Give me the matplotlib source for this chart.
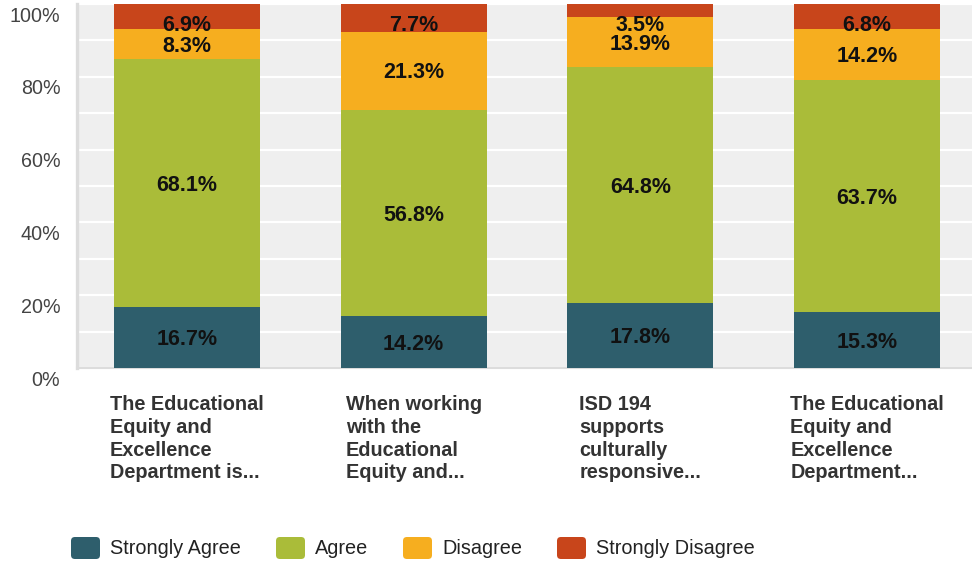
import matplotlib
matplotlib.use("Agg")
import matplotlib.pyplot as plt
import matplotlib.transforms as mtransforms
from matplotlib.patches import FancyBboxPatch
from matplotlib.ticker import MultipleLocator, FuncFormatter

plt.rcParams["font.family"] = ["Liberation Sans", "DejaVu Sans"]

# Survey items (truncated question text) and response shares in percent
categories = [
    "The Educational\nEquity and\nExcellence\nDepartment is...",
    "When working\nwith the\nEducational\nEquity and...",
    "ISD 194\nsupports\nculturally\nresponsive...",
    "The Educational\nEquity and\nExcellence\nDepartment...",
]
series_names = ["Strongly Agree", "Agree", "Disagree", "Strongly Disagree"]
strongly_agree = [16.7, 14.2, 17.8, 15.3]
agree = [68.1, 56.8, 64.8, 63.7]
disagree = [8.3, 21.3, 13.9, 14.2]
strongly_disagree = [6.9, 7.7, 3.5, 6.8]
y_ticks = [0, 20, 40, 60, 80, 100]

colors = ["#2e5e6c", "#aabc39", "#f6ae1f", "#c8451b"]
series = [strongly_agree, agree, disagree, strongly_disagree]

W, H = 972, 564
fig = plt.figure(figsize=(W / 100, H / 100), dpi=100)
ax = fig.add_axes([77 / W, (H - 368) / H, (W - 77) / W, (368 - 4) / H])
ax.set_facecolor("#efefef")

x = list(range(len(categories)))
bar_w = 0.644
bottoms = [0.0] * len(categories)
for vals, col in zip(series, colors):
    ax.bar(x, vals, width=bar_w, bottom=bottoms, color=col, zorder=3, linewidth=0)
    for xi, v, b in zip(x, vals, bottoms):
        # keep labels of thin top segments inside the plot area
        yc = min(b + v / 2, 94.8)
        ax.annotate(f"{v:.1f}%", (xi, yc), xytext=(0, -1.5), textcoords="offset points",
                    ha="center", va="center", fontsize=15.5, fontweight="bold",
                    color="#111111", zorder=4)
    bottoms = [b + v for b, v in zip(bottoms, vals)]

ax.set_xlim(-0.485, 3.463)
ax.set_ylim(0, 100)

# White grid every 10 %
ax.yaxis.set_minor_locator(MultipleLocator(10))
ax.set_yticks(y_ticks)
ax.yaxis.set_major_formatter(FuncFormatter(lambda v, p: f"{v:.0f}%"))
ax.grid(axis="y", which="both", color="white", linewidth=1.6, zorder=1)
ax.grid(axis="x", visible=False)
ax.set_axisbelow(True)
ax.tick_params(axis="y", which="both", length=0, pad=12, labelsize=14.2, labelcolor="#444444")
ax.tick_params(axis="x", length=0, pad=19.5)

offset = mtransforms.ScaledTranslation(0, -10 / 100, fig.dpi_scale_trans)
for lab in ax.get_yticklabels():
    lab.set_transform(lab.get_transform() + offset)

ax.set_xticks(x)
ax.set_xticklabels(categories, fontsize=14.3, fontweight="bold", color="#333333",
                   multialignment="left", linespacing=1.25)

for s in ["top", "right"]:
    ax.spines[s].set_visible(False)
ax.spines["left"].set_color("#dcdcdc")
ax.spines["left"].set_linewidth(2.4)
ax.spines["bottom"].set_color("#dcdcdc")
ax.spines["bottom"].set_linewidth(1.5)

# Legend row
legend_x = [71, 276, 403, 557]
ly = 548
for lx, name, col in zip(legend_x, series_names, colors):
    fig.patches.append(FancyBboxPatch(((lx) / W, (H - ly - 11) / H), 29 / W, 22 / H,
                                      boxstyle="round,pad=0,rounding_size=0.004",
                                      transform=fig.transFigure, facecolor=col,
                                      edgecolor="none", mutation_aspect=W / H))
    fig.text((lx + 39) / W, (H - ly) / H, name, ha="left", va="center",
             fontsize=14.3, color="#222222")

fig.savefig("out.png", dpi=100, facecolor="white")
